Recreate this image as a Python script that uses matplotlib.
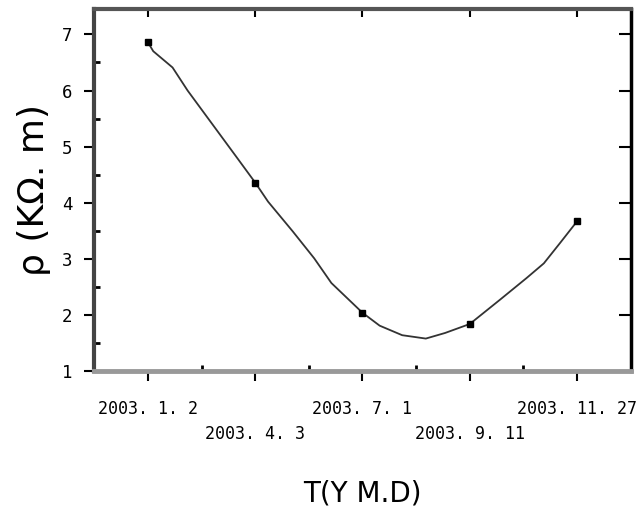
import matplotlib.pyplot as plt
from matplotlib.ticker import MultipleLocator

# measured dates (plotted at even positions)
dates = ['2003. 1. 2', '2003. 4. 3', '2003. 7. 1', '2003. 9. 11', '2003. 11. 27']
pos = [1, 2, 3, 4, 5]
rho = [6.86, 4.36, 2.04, 1.84, 3.67]

# fitted curve
curve_x = [1.0, 1.05, 1.23, 1.37, 1.57, 1.82, 2.0, 2.12, 2.35, 2.55, 2.71, 3.0,
           3.16, 3.37, 3.59, 3.77, 4.0, 4.28, 4.53, 4.69, 4.84, 5.0]
curve_y = [6.86, 6.70, 6.41, 6.00, 5.48, 4.83, 4.36, 4.02, 3.49, 3.01, 2.57, 2.04,
           1.81, 1.64, 1.58, 1.68, 1.84, 2.27, 2.66, 2.92, 3.28, 3.67]

fig = plt.figure(figsize=(6.41, 5.07), dpi=100)
ax = fig.add_axes([0.147, 0.268, 0.837, 0.714])

ax.plot(curve_x, curve_y, color='#333333', lw=1.3)
ax.plot(pos, rho, 's', color='black', ms=5)

ax.set_xlim(0.5, 5.5)
ax.set_ylim(1, 7.45)
ax.yaxis.set_major_locator(MultipleLocator(1))
ax.yaxis.set_minor_locator(MultipleLocator(0.5))
ax.xaxis.set_minor_locator(MultipleLocator(0.5))

# upper row: 1st, 3rd, 5th date; lower row: 2nd and 4th
ax.set_xticks(pos)
ax.set_xticklabels([d if i % 2 == 0 else '' for i, d in enumerate(dates)],
                   family='DejaVu Sans Mono', fontsize=12)
low = ax.secondary_xaxis('bottom')
low.set_xticks(pos[1::2])
low.set_xticklabels(dates[1::2], family='DejaVu Sans Mono', fontsize=12)
low.tick_params(length=0, pad=39)

for t in ax.get_yticklabels():
    t.set_family('DejaVu Sans Mono')
    t.set_fontsize(12.5)

# left/bottom major ticks point out, the rest in
ax.tick_params(axis='both', which='major', direction='out', length=7.5, width=1.5)
ax.tick_params(axis='both', which='minor', direction='in', length=4, width=2)
ax.tick_params(axis='x', which='major', pad=13.5)
ax.tick_params(axis='y', which='major', pad=8)
sec_x = ax.secondary_xaxis('top')
sec_x.set_xticks(pos)
sec_x.tick_params(direction='in', length=6, width=1.5, labeltop=False)
sec_y = ax.secondary_yaxis('right')
sec_y.set_yticks([1, 2, 3, 4, 5, 6, 7])
sec_y.tick_params(direction='in', length=9, width=1.5, labelright=False)

for a in [ax, low, sec_x, sec_y]:
    for s in a.spines.values():
        s.set_visible(False)
for s in ['left', 'top', 'bottom', 'right']:
    ax.spines[s].set_visible(True)
ax.spines['left'].set_linewidth(3)
ax.spines['left'].set_color('#444444')
ax.spines['top'].set_linewidth(3)
ax.spines['top'].set_color('#555555')
ax.spines['bottom'].set_linewidth(3.5)
ax.spines['bottom'].set_color('#999999')
ax.spines['right'].set_linewidth(2.5)
ax.spines['right'].set_color('black')

ax.set_ylabel('ρ (KΩ. m)', fontsize=26, labelpad=8)
ax.xaxis.set_label_coords(0.5, -0.30)
ax.set_xlabel('T(Y M.D)', fontsize=20)

fig.savefig('out.png', dpi=100)
